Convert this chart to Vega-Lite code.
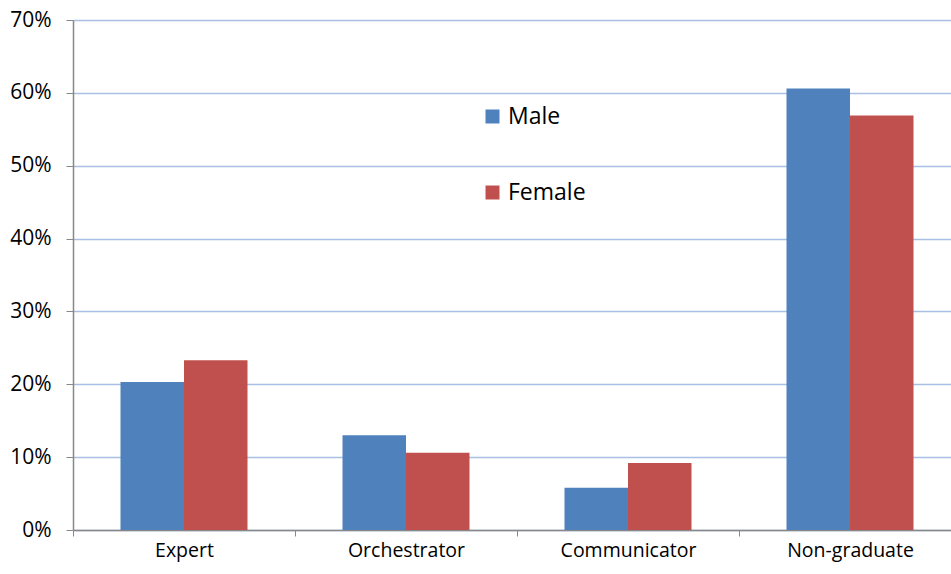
{
  "$schema": "https://vega.github.io/schema/vega-lite/v6.json",
  "width": 888,
  "height": 510,
  "autosize": {"type": "none"},
  "padding": {"left": 73, "top": 20, "right": 0, "bottom": 44},
  "background": "white",
  "config": {"view": {"stroke": null}, "font": "Open Sans"},
  "data": {
    "values": [
      {"category": "Expert", "gender": "Male", "value": 0.203},
      {"category": "Expert", "gender": "Female", "value": 0.233},
      {"category": "Orchestrator", "gender": "Male", "value": 0.130},
      {"category": "Orchestrator", "gender": "Female", "value": 0.106},
      {"category": "Communicator", "gender": "Male", "value": 0.058},
      {"category": "Communicator", "gender": "Female", "value": 0.092},
      {"category": "Non-graduate", "gender": "Male", "value": 0.606},
      {"category": "Non-graduate", "gender": "Female", "value": 0.569}
    ]
  },
  "mark": {"type": "bar"},
  "encoding": {
    "x": {
      "field": "category",
      "type": "nominal",
      "sort": ["Expert", "Orchestrator", "Communicator", "Non-graduate"],
      "scale": {"paddingInner": 0, "paddingOuter": 0},
      "axis": {
        "title": null,
        "labelAngle": 0,
        "labelFontSize": 19.5,
        "labelColor": "#000",
        "labelPadding": 5,
        "tickBand": "extent",
        "tickSize": 6,
        "tickColor": "#888",
        "domainColor": "#888",
        "domainWidth": 1.5,
        "grid": false
      }
    },
    "xOffset": {
      "field": "gender",
      "type": "nominal",
      "sort": ["Male", "Female"],
      "scale": {"paddingInner": 0, "paddingOuter": 0.748}
    },
    "y": {
      "field": "value",
      "type": "quantitative",
      "scale": {"domain": [0, 0.7]},
      "axis": {
        "title": null,
        "format": ".0%",
        "values": [0, 0.1, 0.2, 0.3, 0.4, 0.5, 0.6, 0.7],
        "labelFontSize": 21,
        "labelColor": "#000",
        "labelPadding": 15,
        "tickSize": 7,
        "tickColor": "#888",
        "domainColor": "#888",
        "domainWidth": 1.5,
        "grid": true,
        "gridColor": "#a9c0e4",
        "gridWidth": 1.5
      }
    },
    "color": {
      "field": "gender",
      "type": "nominal",
      "sort": ["Male", "Female"],
      "scale": {"domain": ["Male", "Female"], "range": ["#4F81BD", "#C0504D"]},
      "legend": {
        "title": null,
        "orient": "none",
        "legendX": 408,
        "legendY": 85,
        "symbolType": "square",
        "symbolSize": 196,
        "symbolStrokeWidth": 0,
        "labelFontSize": 23,
        "labelColor": "#000",
        "rowPadding": 52,
        "labelOffset": 4
      }
    }
  }
}
